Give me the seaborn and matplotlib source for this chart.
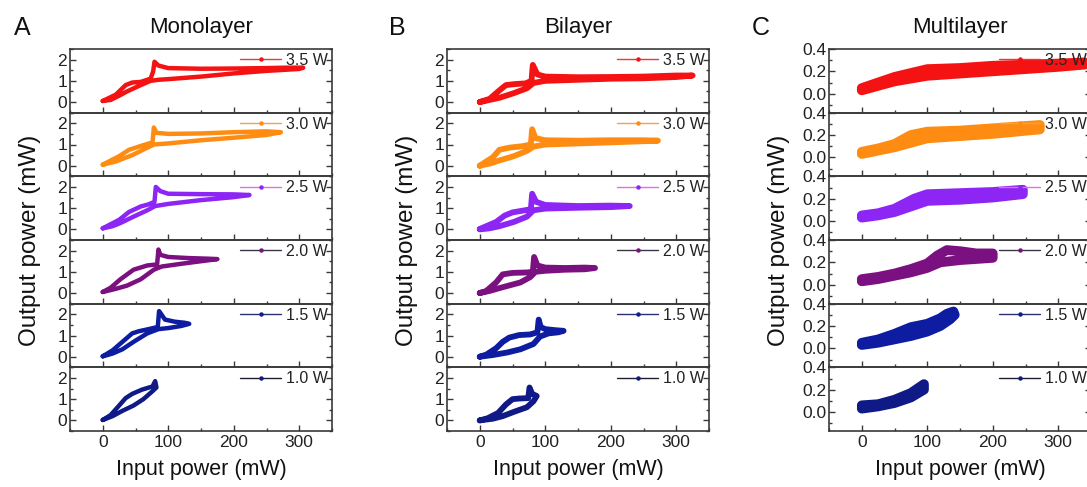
import numpy as np
import matplotlib
matplotlib.use("Agg")
import matplotlib.pyplot as plt
from matplotlib.lines import Line2D
from matplotlib.ticker import MultipleLocator
import seaborn as sns

# ---------------- data (input power mW, output power mW) ----------------
powers = ["3.5 W", "3.0 W", "2.5 W", "2.0 W", "1.5 W", "1.0 W"]
columns = ["Monolayer", "Bilayer", "Multilayer"]
letters = ["A", "B", "C"]

# Monolayer
mono_35_x = [0, 12, 25, 37, 58, 73, 85, 100, 150, 200, 250, 300, 306, 280, 250, 200, 150, 100, 85, 79, 77, 73, 58, 45, 35, 20, 0]
mono_35_y = [0.05, 0.1, 0.3, 0.5, 0.8, 1.0, 1.05, 1.08, 1.2, 1.35, 1.47, 1.56, 1.62, 1.62, 1.6, 1.58, 1.57, 1.6, 1.72, 1.9, 1.45, 1.1, 0.95, 0.92, 0.8, 0.35, 0.05]
mono_30_x = [0, 20, 45, 68, 78, 100, 150, 200, 250, 272, 250, 200, 150, 100, 82, 78, 76, 60, 40, 25, 0]
mono_30_y = [0.05, 0.2, 0.5, 0.85, 1.0, 1.05, 1.2, 1.32, 1.45, 1.58, 1.62, 1.58, 1.52, 1.5, 1.55, 1.8, 1.1, 0.95, 0.75, 0.45, 0.05]
mono_25_x = [0, 15, 27, 47, 68, 80, 100, 150, 200, 224, 200, 150, 100, 88, 81, 79, 70, 58, 40, 25, 0]
mono_25_y = [0.05, 0.15, 0.3, 0.6, 0.9, 1.1, 1.2, 1.38, 1.52, 1.62, 1.65, 1.66, 1.68, 1.8, 2.0, 1.3, 1.18, 1.08, 0.82, 0.45, 0.05]
mono_20_x = [0, 20, 37, 58, 78, 90, 120, 150, 175, 160, 130, 100, 88, 85, 83, 68, 47, 27, 12, 0]
mono_20_y = [0.05, 0.2, 0.35, 0.65, 1.1, 1.25, 1.38, 1.5, 1.6, 1.62, 1.65, 1.7, 1.8, 2.05, 1.35, 1.3, 1.1, 0.65, 0.25, 0.05]
mono_15_x = [0, 15, 30, 47, 68, 85, 100, 120, 132, 125, 110, 95, 86, 84, 70, 55, 45, 30, 15, 0]
mono_15_y = [0.02, 0.15, 0.35, 0.7, 1.1, 1.3, 1.35, 1.45, 1.55, 1.6, 1.65, 1.75, 2.15, 1.4, 1.3, 1.2, 1.1, 0.7, 0.3, 0.02]
mono_10_x = [0, 15, 30, 47, 62, 75, 82, 80, 76, 60, 45, 35, 25, 12, 0]
mono_10_y = [0.02, 0.2, 0.45, 0.7, 1.0, 1.35, 1.55, 1.85, 1.6, 1.45, 1.25, 1.05, 0.7, 0.25, 0.02]

# Bilayer
bi_35_x = [0, 15, 30, 52, 72, 82, 100, 150, 200, 250, 300, 325, 300, 250, 200, 150, 100, 88, 81, 79, 70, 55, 40, 30, 15, 0]
bi_35_y = [0.0, 0.1, 0.2, 0.42, 0.65, 0.9, 1.0, 1.05, 1.1, 1.12, 1.18, 1.25, 1.25, 1.2, 1.18, 1.17, 1.2, 1.3, 1.75, 1.0, 0.88, 0.85, 0.8, 0.55, 0.15, 0.0]
bi_30_x = [0, 15, 30, 52, 72, 82, 100, 150, 200, 272, 250, 200, 150, 100, 85, 80, 78, 65, 45, 30, 20, 0]
bi_30_y = [0.0, 0.1, 0.25, 0.45, 0.7, 0.9, 1.0, 1.05, 1.1, 1.18, 1.2, 1.2, 1.18, 1.2, 1.3, 1.72, 1.0, 0.92, 0.85, 0.75, 0.4, 0.0]
bi_25_x = [0, 15, 30, 52, 72, 82, 100, 150, 200, 229, 200, 150, 100, 86, 80, 78, 65, 50, 38, 25, 0]
bi_25_y = [0.0, 0.05, 0.15, 0.35, 0.6, 0.9, 0.98, 1.02, 1.05, 1.1, 1.12, 1.1, 1.15, 1.3, 1.68, 0.95, 0.88, 0.8, 0.65, 0.35, 0.02]
bi_20_x = [0, 15, 32, 62, 77, 85, 100, 130, 160, 176, 160, 130, 100, 88, 83, 81, 72, 50, 35, 25, 10, 0]
bi_20_y = [0.0, 0.1, 0.25, 0.5, 0.75, 1.0, 1.05, 1.1, 1.12, 1.18, 1.2, 1.18, 1.2, 1.3, 1.7, 1.0, 0.97, 0.95, 0.88, 0.5, 0.1, 0.0]
bi_15_x = [0, 20, 42, 62, 82, 92, 105, 120, 128, 115, 100, 93, 90, 88, 77, 60, 45, 35, 25, 10, 0]
bi_15_y = [0.0, 0.08, 0.2, 0.35, 0.6, 0.95, 1.1, 1.15, 1.22, 1.25, 1.3, 1.4, 1.75, 1.15, 1.05, 1.02, 0.9, 0.7, 0.4, 0.1, 0.0]
bi_10_x = [0, 20, 35, 52, 72, 82, 87, 80, 76, 74, 60, 50, 40, 28, 12, 0]
bi_10_y = [0.0, 0.08, 0.2, 0.4, 0.62, 0.9, 1.15, 1.25, 1.55, 1.05, 1.03, 1.0, 0.75, 0.35, 0.1, 0.0]

# Multilayer
multi_35_x = [0, 25, 50, 100, 150, 200, 250, 300, 340, 340, 300, 250, 200, 150, 100, 50, 25, 0]
multi_35_y = [0.03, 0.07, 0.11, 0.16, 0.18, 0.2, 0.22, 0.24, 0.26, 0.28, 0.27, 0.26, 0.25, 0.23, 0.22, 0.15, 0.1, 0.05]
multi_30_x = [0, 25, 50, 75, 100, 150, 200, 272, 272, 200, 150, 100, 75, 50, 25, 0]
multi_30_y = [0.03, 0.06, 0.09, 0.13, 0.17, 0.19, 0.21, 0.25, 0.29, 0.26, 0.24, 0.23, 0.2, 0.12, 0.08, 0.05]
multi_25_x = [0, 25, 50, 75, 100, 150, 200, 246, 246, 200, 150, 100, 80, 50, 25, 0]
multi_25_y = [0.03, 0.05, 0.08, 0.13, 0.18, 0.19, 0.21, 0.24, 0.28, 0.26, 0.25, 0.24, 0.2, 0.11, 0.07, 0.05]
multi_20_x = [0, 25, 50, 75, 100, 120, 150, 175, 200, 200, 175, 150, 130, 115, 100, 75, 50, 25, 0]
multi_20_y = [0.03, 0.05, 0.08, 0.11, 0.15, 0.2, 0.22, 0.23, 0.24, 0.28, 0.28, 0.3, 0.31, 0.26, 0.19, 0.14, 0.1, 0.07, 0.05]
multi_15_x = [0, 25, 50, 75, 100, 120, 135, 142, 140, 130, 120, 100, 75, 50, 25, 0]
multi_15_y = [0.03, 0.05, 0.08, 0.11, 0.15, 0.2, 0.26, 0.3, 0.33, 0.31, 0.27, 0.22, 0.19, 0.13, 0.08, 0.05]
multi_10_x = [0, 25, 50, 75, 95, 95, 75, 50, 25, 0]
multi_10_y = [0.03, 0.05, 0.08, 0.13, 0.2, 0.25, 0.17, 0.11, 0.07, 0.06]

panels = [
    [(mono_35_x, mono_35_y), (mono_30_x, mono_30_y), (mono_25_x, mono_25_y),
     (mono_20_x, mono_20_y), (mono_15_x, mono_15_y), (mono_10_x, mono_10_y)],
    [(bi_35_x, bi_35_y), (bi_30_x, bi_30_y), (bi_25_x, bi_25_y),
     (bi_20_x, bi_20_y), (bi_15_x, bi_15_y), (bi_10_x, bi_10_y)],
    [(multi_35_x, multi_35_y), (multi_30_x, multi_30_y), (multi_25_x, multi_25_y),
     (multi_20_x, multi_20_y), (multi_15_x, multi_15_y), (multi_10_x, multi_10_y)],
]

x_ticks = [0, 100, 200, 300]
y_ticks_ab = [0, 1, 2]
y_ticks_c = [0.0, 0.2, 0.4]

# ---------------- style ----------------
colors = ["#f41212", "#ff8c12", "#8d26f5", "#7b1080", "#0d1ca0", "#0f1a86"]
legend_colors = ["#e83a3a", "#f2a24a", "#e070e8", "#3a3548", "#2a3070", "#1e2030"]
line_widths = [3.2, 4.2, 7.0]

sns.set_theme(style="ticks")
plt.rcParams["font.family"] = ["Liberation Sans", "DejaVu Sans"]
plt.rcParams["axes.edgecolor"] = "#3a3a3a"
plt.rcParams["axes.linewidth"] = 1.2

W, H = 1087, 487
fig = plt.figure(figsize=(W / 100, H / 100), dpi=100)

col_left = [70, 447, 829]
ax_w = 262
top_px, bot_px = 49, 431
ph = (bot_px - top_px) / 6.0

for ci in range(3):
    for ri in range(6):
        y0 = top_px + ri * ph
        ax = fig.add_axes([col_left[ci] / W, 1 - (y0 + ph) / H, ax_w / W, ph / H])
        xs, ys = panels[ci][ri]
        sns.lineplot(x=xs, y=ys, sort=False, estimator=None, ax=ax,
                     color=colors[ri], lw=line_widths[ci],
                     solid_joinstyle="round", solid_capstyle="round")
        ax.set_xlim(-50, 350)
        ax.xaxis.set_major_locator(MultipleLocator(100))
        ax.xaxis.set_minor_locator(MultipleLocator(50))
        if ci < 2:
            ax.set_ylim(-0.5, 2.5)
            ax.set_yticks(y_ticks_ab)
            ax.yaxis.set_minor_locator(MultipleLocator(0.5))
        else:
            ax.set_ylim(-0.17, 0.4)
            ax.set_yticks(y_ticks_c)
            ax.set_yticklabels(["0.0", "0.2", "0.4"])
            ax.yaxis.set_minor_locator(MultipleLocator(0.1))
        ax.set_xticks(x_ticks)
        ax.tick_params(axis="both", which="major", direction="in", length=4.5,
                       width=1.0, color="#3a3a3a", labelsize=12.5, pad=3,
                       right=True, labelcolor="#222222")
        ax.tick_params(axis="both", which="minor", direction="in", length=2.5,
                       width=1.0, color="#3a3a3a", right=True)
        ax.tick_params(axis="y", which="major", pad=2)
        if ri < 5:
            ax.tick_params(axis="x", labelbottom=False)
        ax.set_xlabel("")
        ax.set_ylabel("")
        ax.patch.set_alpha(0)
        handle = Line2D([], [], color=legend_colors[ri], lw=1.0, marker="o",
                        markersize=2.2, markerfacecolor=colors[ri],
                        markeredgecolor=colors[ri])
        ax.legend([handle], [powers[ri]], loc="upper right", frameon=False,
                  fontsize=11.5, handlelength=2.6, handletextpad=0.3,
                  borderaxespad=0.0, borderpad=0.25, numpoints=1,
                  labelcolor="#222222")

    cx = (col_left[ci] + ax_w / 2) / W
    fig.text(cx, 1 - 28 / H, columns[ci], ha="center", va="center",
             fontsize=16, color="#111111")
    fig.text(cx, 1 - 470 / H, "Input power (mW)", ha="center", va="center",
             fontsize=15.5, color="#111111")

letter_x = [22, 397, 761]
ylab_x = [30, 407, 779]
for ci in range(3):
    fig.text(letter_x[ci] / W, 1 - 28 / H, letters[ci], ha="center",
             va="center", fontsize=18, color="#111111")
    fig.text(ylab_x[ci] / W, 1 - 240 / H, "Output power (mW)", ha="center",
             va="center", rotation=90, fontsize=17.5, color="#111111")

fig.savefig("out.png", dpi=100)
